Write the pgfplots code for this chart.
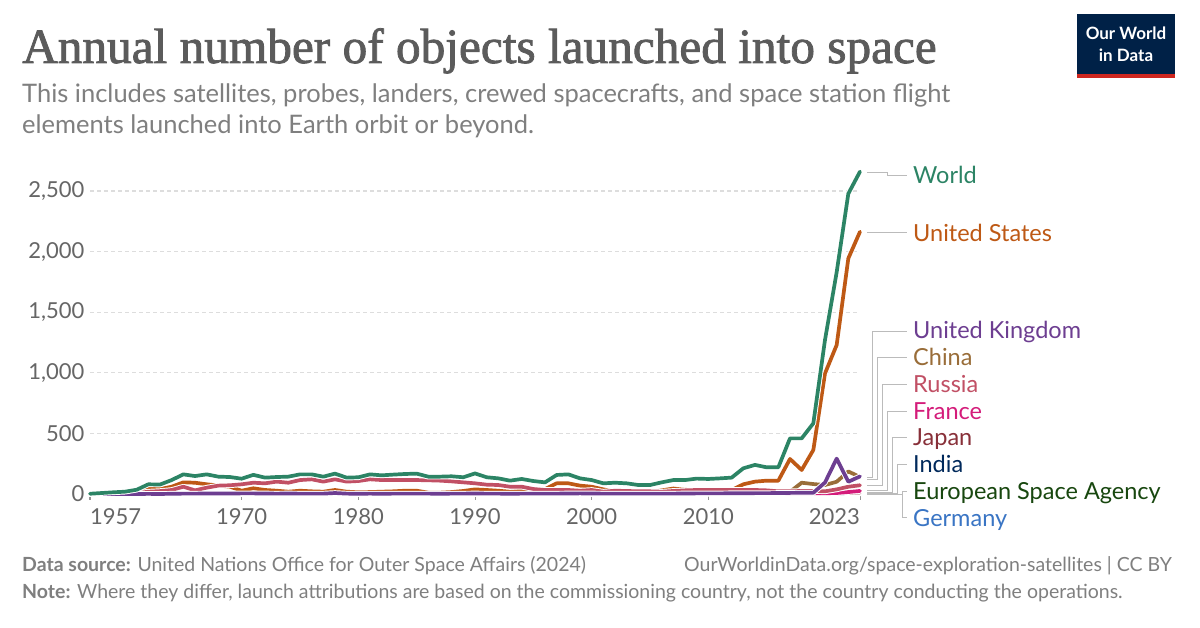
\documentclass[border=0pt]{standalone}
\usepackage{fontspec}
\setmainfont{Lato}
\newfontfamily\titlefont[FakeBold=1.6]{Liberation Serif}
\usepackage{pgfplots}
\usepackage{pgfplotstable}
\pgfplotsset{compat=1.18}
\definecolor{cW}{HTML}{2C8465}
\definecolor{cUS}{HTML}{BE5915}
\definecolor{cUK}{HTML}{6D3E91}
\definecolor{cCN}{HTML}{996D39}
\definecolor{cRU}{HTML}{C15065}
\definecolor{cFR}{HTML}{D41C7A}
\definecolor{cJP}{HTML}{883039}
\definecolor{cIN}{HTML}{00295B}
\definecolor{cESA}{HTML}{18470F}
\definecolor{cDE}{HTML}{3A75C4}
\definecolor{titlegray}{HTML}{5B5B5B}
\definecolor{subgray}{HTML}{7F7F7F}
\definecolor{tickgray}{HTML}{666666}
\definecolor{gridgray}{HTML}{DDDDDD}
\definecolor{conngray}{HTML}{BBBBBB}
\definecolor{footgray}{HTML}{7F7F7F}
\definecolor{owidnavy}{HTML}{002147}
\definecolor{owidred}{HTML}{CE261E}

\pgfplotstableread{
yr W US UK CN RU FR JP IN ESA DE
1957 2 0 0 0 2 0 0 0 0 0
1958 8 7 0 0 1 0 0 0 0 0
1959 14 11 0 0 3 0 0 0 0 0
1960 19 16 0 0 3 0 0 0 0 0
1961 35 29 0 0 6 0 0 0 0 0
1962 80 47 1 0 19 0 0 0 0 0
1963 78 41 0 0 24 0 0 0 0 0
1964 115 60 2 0 33 0 0 0 0 0
1965 162 96 3 0 60 1 0 0 0 0
1966 148 93 3 0 30 1 0 0 0 0
1967 162 80 4 0 52 2 0 0 0 0
1968 143 70 4 0 69 1 0 0 1 0
1969 140 60 4 0 72 1 0 0 1 1
1970 126 27 5 1 80 2 1 0 0 1
1971 158 47 5 1 93 2 2 0 0 1
1972 135 33 4 0 88 1 1 0 1 1
1973 140 27 3 0 102 1 0 0 0 0
1974 143 19 4 0 93 2 1 0 1 1
1975 162 27 3 3 115 4 2 1 1 2
1976 162 22 3 2 121 1 1 0 0 1
1977 143 19 3 0 102 2 2 0 1 1
1978 168 33 8 1 121 1 3 0 1 1
1979 135 19 3 0 102 1 1 1 1 0
1980 138 14 2 0 107 1 2 1 0 0
1981 162 16 3 1 121 2 3 2 1 1
1982 154 19 2 1 115 1 1 1 1 0
1983 160 22 3 1 115 2 3 1 2 1
1984 165 27 3 3 115 1 3 0 1 0
1985 168 27 3 1 115 2 2 0 2 1
1986 143 11 3 2 113 1 2 0 1 0
1987 143 11 2 2 110 2 3 0 1 1
1988 146 16 3 4 104 2 2 1 1 1
1989 138 25 3 0 96 3 2 0 2 2
1990 170 38 4 5 88 3 4 1 2 2
1991 138 33 3 1 77 4 2 1 2 2
1992 129 27 3 3 74 3 2 1 1 2
1993 110 19 2 1 60 3 1 1 1 1
1994 124 27 3 5 60 3 2 1 2 2
1995 107 14 3 2 41 4 2 1 2 2
1996 96 40 3 3 33 3 2 2 2 2
1997 157 88 3 6 33 4 3 1 2 2
1998 162 88 4 6 33 3 2 1 2 2
1999 129 69 5 4 27 3 2 3 2 3
2000 115 60 4 5 33 4 2 2 3 3
2001 88 38 3 3 19 4 3 2 2 3
2002 93 19 3 5 27 3 4 2 3 3
2003 88 19 3 6 25 3 3 2 3 3
2004 74 16 3 10 22 3 2 2 2 2
2005 74 14 3 6 22 3 6 3 3 3
2006 96 30 3 7 19 4 6 2 3 3
2007 115 45 3 11 25 4 5 2 3 4
2008 115 35 4 14 30 4 3 4 3 4
2009 127 30 5 9 33 5 6 2 4 3
2010 124 30 5 16 33 5 7 4 3 4
2011 129 30 5 19 33 5 4 4 4 4
2012 135 33 6 19 33 6 4 3 4 4
2013 212 80 6 18 33 5 5 4 4 5
2014 240 102 7 21 33 5 11 2 5 5
2015 220 110 7 34 30 5 6 3 5 6
2016 220 110 8 22 22 5 9 3 6 5
2017 459 289 9 18 22 6 11 8 6 8
2018 459 198 10 93 25 6 14 7 7 8
2019 583 363 10 82 25 7 11 5 7 9
2020 1271 995 95 74 22 6 10 3 6 9
2021 1830 1229 292 101 38 8 20 5 6 10
2022 2478 1944 101 186 60 16 10 8 6 12
2023 2660 2164 145 140 72 25 13 7 4 10
}\datatable

\pgfplotsset{
  halo/.style={draw=white, line width=5.6pt, line join=round, line cap=round, mark=none, forget plot},
  ser/.style={draw=#1, line width=3.7pt, line join=round, line cap=round, mark=none},
}

\begin{document}
\begin{tikzpicture}[x=1pt,y=1pt]
\fill[white] (0,0) rectangle (1200,628);
% title & subtitle
\node[anchor=base west, inner sep=0, text=titlegray] at (22,565)
  {\titlefont\fontsize{49.3}{55}\selectfont Annual number of objects launched into space};
\node[anchor=base west, inner sep=0, text=subgray] at (22,525)
  {\fontsize{25.5}{30}\selectfont This includes satellites, probes, landers, crewed spacecrafts, and space station flight};
\node[anchor=base west, inner sep=0, text=subgray] at (22,494)
  {\fontsize{25.5}{30}\selectfont elements launched into Earth orbit or beyond.};
% logo
\fill[owidnavy] (1077,554) rectangle (1175,614);
\fill[owidred] (1077,550) rectangle (1175,554);
\node[anchor=base, inner sep=0, text=white] at (1126,588) {\fontsize{17}{20}\selectfont\bfseries Our World};
\node[anchor=base, inner sep=0, text=white] at (1126,566) {\fontsize{17}{20}\selectfont\bfseries in Data};

\begin{axis}[
  at={(90pt,134pt)}, anchor=south west, scale only axis,
  width=770pt, height=303pt,
  xmin=1957, xmax=2023, ymin=0, ymax=2500,
  clip=false,
  axis line style={draw=none},
  ytick={0,500,1000,1500,2000,2500},
  xtick={1957,1970,1980,1990,2000,2010,2023},
  xticklabels={{\makebox[0pt][l]{1957}},1970,1980,1990,2000,2010,{\makebox[0pt][r]{2023}}},
  ymajorgrids,
  grid style={draw=gridgray, line width=1.3pt, dash pattern=on 4pt off 3pt},
  major tick length=6pt,
  xtick align=outside,
  tick pos=left,
  xtick style={draw=tickgray!70, line width=1pt},
  ytick style={draw=none},
  yticklabel style={font=\fontsize{22}{26}\selectfont, text=tickgray, xshift=-2pt,
    /pgf/number format/.cd, 1000 sep={,}, assume math mode=true},
  xticklabel style={font=\fontsize{22}{26}\selectfont, text=tickgray, yshift=-5pt},
]
\draw[tickgray!70, line width=1pt] (axis cs:1957,0) -- (axis cs:2023,0);
\addplot[halo] table[x=yr,y=DE] \datatable;
\addplot[ser=cDE] table[x=yr,y=DE] \datatable;
\addplot[halo] table[x=yr,y=ESA] \datatable;
\addplot[ser=cESA] table[x=yr,y=ESA] \datatable;
\addplot[halo] table[x=yr,y=IN] \datatable;
\addplot[ser=cIN] table[x=yr,y=IN] \datatable;
\addplot[halo] table[x=yr,y=JP] \datatable;
\addplot[ser=cJP] table[x=yr,y=JP] \datatable;
\addplot[halo] table[x=yr,y=FR] \datatable;
\addplot[ser=cFR] table[x=yr,y=FR] \datatable;
\addplot[halo] table[x=yr,y=CN] \datatable;
\addplot[ser=cCN] table[x=yr,y=CN] \datatable;
\addplot[halo] table[x=yr,y=US] \datatable;
\addplot[ser=cUS] table[x=yr,y=US] \datatable;
\addplot[halo] table[x=yr,y=RU] \datatable;
\addplot[ser=cRU] table[x=yr,y=RU] \datatable;
\addplot[halo] table[x=yr,y=UK] \datatable;
\addplot[ser=cUK] table[x=yr,y=UK] \datatable;
\addplot[halo] table[x=yr,y=W] \datatable;
\addplot[ser=cW] table[x=yr,y=W] \datatable;
\end{axis}

% connectors (y = 628 - pixel row)
\begin{scope}[conngray, line width=0.9pt]
\draw (867,455.7) -- (887,455.7) -- (887,453) -- (907,453);
\draw (867,395.7) -- (907,395.7);
\draw (867,151) -- (872,151) -- (872,297) -- (907,297);
\draw (867,149) -- (877,149) -- (877,271) -- (907,271);
\draw (867,143) -- (882,143) -- (882,244) -- (907,244);
\draw (867,138) -- (887,138) -- (887,217) -- (907,217);
\draw (867,136) -- (892,136) -- (892,191) -- (907,191);
\draw (867,135) -- (897,135) -- (897,164) -- (907,164);
\draw (867,134) -- (902,134) -- (902,137) -- (907,137);
\draw (902,134) -- (902,111) -- (907,111);
\end{scope}
% labels
\begin{scope}[every node/.style={anchor=base west, inner sep=0, font=\fontsize{23.5}{28}\selectfont}]
\node[text=cW] at (913,444.5) {World};
\node[text=cUS] at (913,386.5) {United States};
\node[text=cUK] at (913,289.5) {United Kingdom};
\node[text=cCN] at (913,262.5) {China};
\node[text=cRU] at (913,235.5) {Russia};
\node[text=cFR] at (913,208.5) {France};
\node[text=cJP] at (913,182.5) {Japan};
\node[text=cIN] at (913,155.5) {India};
\node[text=cESA] at (913,128.5) {European Space Agency};
\node[text=cDE] at (913,101.5) {Germany};
\end{scope}
% footer
\node[anchor=base west, inner sep=0, text=footgray] at (22,56)
  {\fontsize{19.5}{23}\selectfont\textbf{Data source:} United Nations Office for Outer Space Affairs (2024)};
\node[anchor=base east, inner sep=0, text=footgray] at (1172,56)
  {\fontsize{19.5}{23}\selectfont OurWorldinData.org/space-exploration-satellites | CC BY};
\node[anchor=base west, inner sep=0, text=footgray] at (22,29)
  {\fontsize{19.5}{23}\selectfont\textbf{Note:} Where they differ, launch attributions are based on the commissioning country, not the country conducting the operations.};
\end{tikzpicture}
\end{document}
